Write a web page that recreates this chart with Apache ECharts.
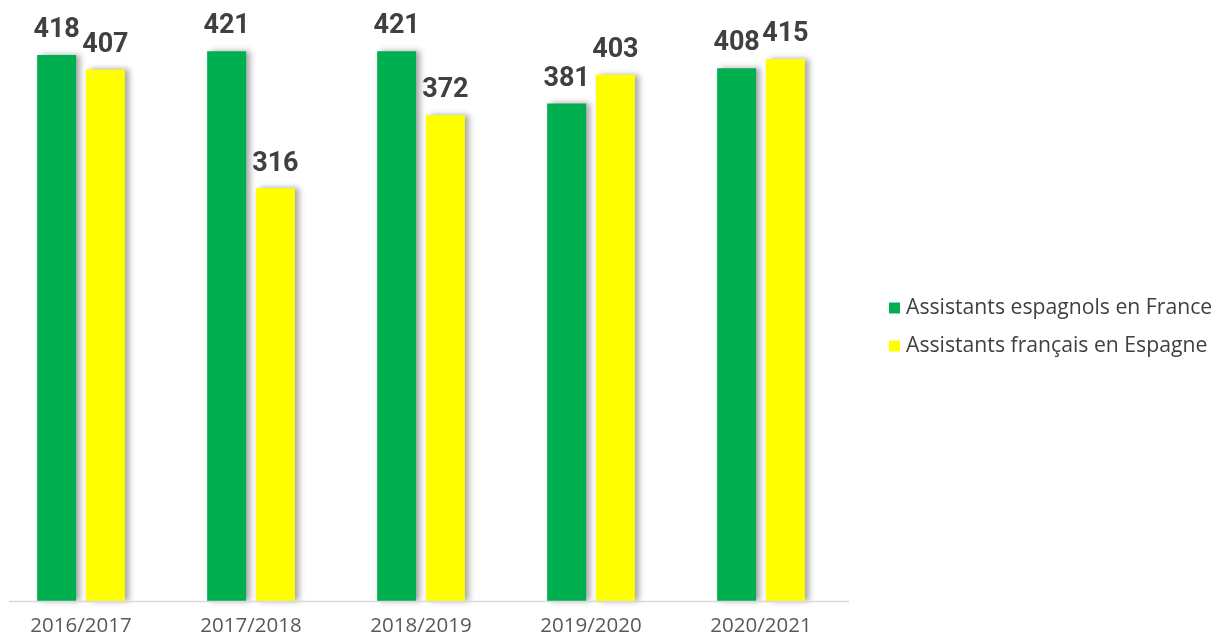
<!DOCTYPE html>
<html>
<head>
<meta charset="utf-8">
<script src="https://cdn.jsdelivr.net/npm/echarts@6/dist/echarts.min.js"></script>
<style>
html,body{margin:0;padding:0;background:#fff;overflow:hidden;}
#chart{position:absolute;left:-4px;top:0;width:1227px;height:641px;}
</style>
</head>
<body>
<div id="chart"></div>
<script>
const categories = ['2016/2017', '2017/2018', '2018/2019', '2019/2020', '2020/2021'];
const espagnolsEnFrance = [418, 421, 421, 381, 408];
const francaisEnEspagne = [407, 316, 372, 403, 415];
const seriesNames = ['Assistants espagnols en France', 'Assistants français en Espagne'];

const chart = echarts.init(document.getElementById('chart'), null, {renderer: 'canvas'});

const labelStyle = {
  show: true,
  position: 'top',
  distance: 11,
  color: '#404040',
  fontFamily: 'Roboto',
  fontWeight: 'bold',
  fontSize: 27
};
const shadow = {
  shadowBlur: 6,
  shadowOffsetX: 4,
  shadowOffsetY: 0,
  shadowColor: 'rgba(0,0,0,0.35)'
};

chart.setOption({
  animation: false,
  backgroundColor: '#ffffff',
  grid: {left: 0, width: 850, top: 13.3, bottom: 40, containLabel: false},
  legend: {
    orient: 'vertical',
    left: 888,
    top: 292,
    itemWidth: 11,
    itemHeight: 11,
    itemGap: 16,
    icon: 'rect',
    textStyle: {color: '#404040', fontFamily: 'Open Sans', fontSize: 21.2, lineHeight: 22, padding: [0, 0, 0, 1]},
    data: seriesNames
  },
  xAxis: {
    type: 'category',
    data: categories,
    axisLine: {show: false},
    axisTick: {show: false},
    axisLabel: {color: '#595959', fontFamily: 'Open Sans', fontSize: 20.5, margin: 15}
  },
  yAxis: {
    type: 'value',
    min: 0,
    max: 450,
    show: false,
    splitLine: {show: false}
  },
  graphic: [{
    type: 'line',
    shape: {x1: 13, y1: 601.5, x2: 853, y2: 601.5},
    style: {stroke: '#d9d9d9', lineWidth: 1.5},
    z: 10
  }],
  series: [
    {
      name: seriesNames[0],
      type: 'bar',
      data: espagnolsEnFrance,
      barWidth: 39,
      barGap: '25%',
      itemStyle: Object.assign({color: '#00B050'}, shadow),
      label: labelStyle
    },
    {
      name: seriesNames[1],
      type: 'bar',
      data: francaisEnEspagne,
      barWidth: 39,
      itemStyle: Object.assign({color: '#FFFF00'}, shadow),
      label: labelStyle
    }
  ]
});
</script>
</body>
</html>
